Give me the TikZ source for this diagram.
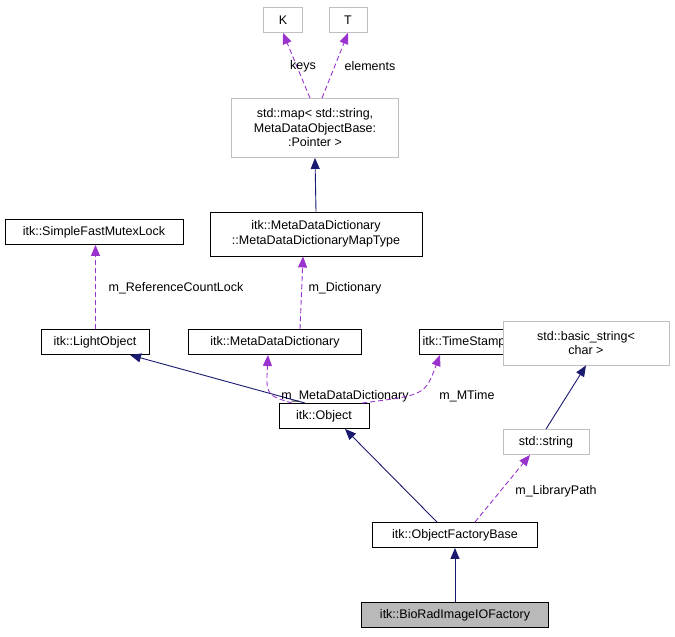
\documentclass[tikz,border=0pt]{standalone}
\usepackage{fontspec}
\setmainfont{Liberation Sans}
\usetikzlibrary{arrows.meta}
\definecolor{navy}{HTML}{191970}
\definecolor{purp}{HTML}{9A32CD}
\begin{document}
\begin{tikzpicture}[x=1pt,y=-1pt,line width=0.9pt,
  box/.style={draw=black,fill=white,inner sep=0pt,font=\fontsize{12.5}{14.5}\selectfont,align=center},
  gbox/.style={box,draw=gray!50},
  inh/.style={navy,-{Triangle[length=11pt,width=9pt]}},
  use/.style={purp,dashed,dash pattern=on 5pt off 3pt,-{Triangle[length=11pt,width=9pt]}},
  lab/.style={font=\fontsize{12.5}{14.5}\selectfont}]
\useasboundingbox (0,0) rectangle (675,637);
\node[gbox,minimum width=39pt,minimum height=25pt] (K) at (283,20) {K};
\node[gbox,minimum width=38pt,minimum height=25pt] (T) at (348,20) {T};
\node[gbox,minimum width=167pt,minimum height=59pt] (map) at (315,128) {std::map< std::string,\\ MetaDataObjectBase:\\:Pointer >};
\node[box,minimum width=212pt,minimum height=44pt] (mt) at (316,234) {itk::MetaDataDictionary\\::MetaDataDictionaryMapType};
\node[box,minimum width=178pt,minimum height=25pt] (sf) at (94,232) {itk::SimpleFastMutexLock};
\node[box,minimum width=108pt,minimum height=25pt] (lo) at (95,342) {itk::LightObject};
\node[box,minimum width=173pt,minimum height=25pt] (md) at (275,342) {itk::MetaDataDictionary};
\node[box,minimum width=90pt,minimum height=25pt] (ts) at (464,342) {itk::TimeStamp};
\node[gbox,minimum width=166pt,minimum height=44pt] (bs) at (586,343) {std::basic\_string<\\ char >};
\node[box,minimum width=90pt,minimum height=25pt] (ob) at (324,416) {itk::Object};
\node[gbox,minimum width=86pt,minimum height=25pt] (ss) at (546,442) {std::string};
\node[box,minimum width=165pt,minimum height=25pt] (of) at (455,535) {itk::ObjectFactoryBase};
\node[box,fill=gray!55,minimum width=187pt,minimum height=25pt] (br) at (455,615) {itk::BioRadImageIOFactory};

\draw[use] (map.north -| 310,0) -- (K.south);
\node[lab] at (303,66) {keys};
\draw[use] (map.north -| 322,0) -- (T.south);
\node[lab] at (370,66) {elements};
\draw[inh] (mt.north) -- (map.south);
\draw[use] (md.north -| 300,0) -- (mt.south -| 303,0);
\node[lab] at (345,288) {m\_Dictionary};
\draw[use] (lo.north -| 95.5,0) -- (sf.south -| 95.5,0);
\node[lab] at (176,288) {m\_ReferenceCountLock};
\draw[inh] (ob.north -| 305,0) -- (lo.south -| 130,0);
\draw[use] (ob.north -| 292,0) .. controls (266,395) .. (md.south -| 268,0);
\node[lab] at (345,396) {m\_MetaDataDictionary};
\draw[use] (ob.north -| 362,0) .. controls (425,395) .. (ts.south -| 440,0);
\node[lab] at (467,396) {m\_MTime};
\draw[inh] (ss.north) -- (bs.south);
\draw[inh] (of.north -| 437,0) -- (ob.south -| 345,0);
\draw[use] (of.north -| 475,0) -- (ss.south -| 530,0);
\node[lab] at (556,491) {m\_LibraryPath};
\draw[inh] (br.north) -- (of.south);
\end{tikzpicture}
\end{document}
